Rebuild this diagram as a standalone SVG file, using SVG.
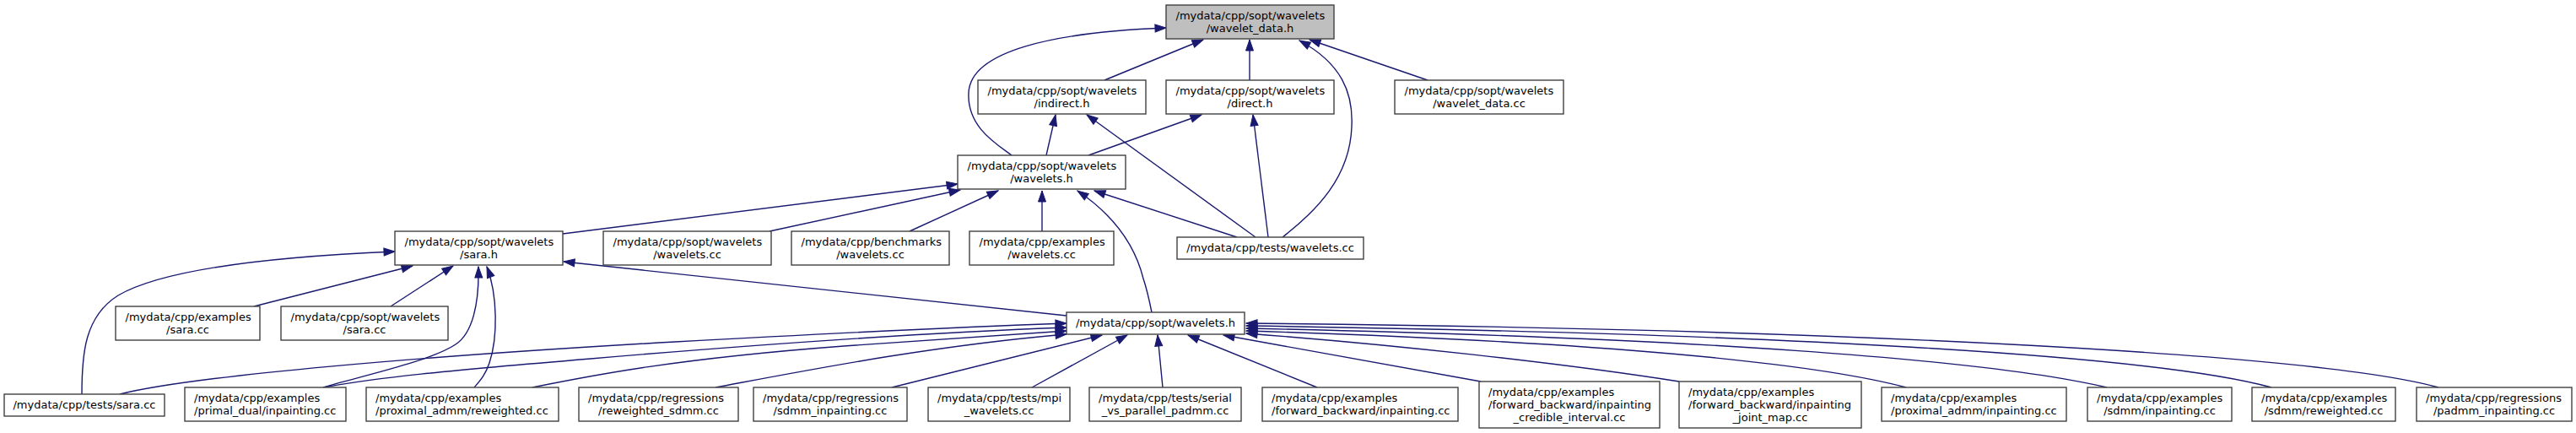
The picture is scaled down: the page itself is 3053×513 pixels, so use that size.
<svg xmlns="http://www.w3.org/2000/svg" width="3053" height="513" viewBox="0 0 3053 513">
<style>
.node rect{fill:#ffffff;stroke:#404040;stroke-width:1.4}
.root rect{fill:#bfbfbf}
text{font-family:"DejaVu Sans","Liberation Sans",sans-serif;font-size:13px;fill:#000}
.m{text-anchor:middle}
.s{text-anchor:start}
#edges path{fill:none;stroke:#191970;stroke-width:1.4;marker-end:url(#ah)}
</style>
<defs>
<marker id="ah" markerUnits="userSpaceOnUse" markerWidth="14" markerHeight="10" viewBox="0 0 14 10" refX="13" refY="5" orient="auto" overflow="visible">
<path d="M0,0.5 L13,5 L0,9.5 z" fill="#191970" stroke="#191970" stroke-width="1"/>
</marker>
</defs>
<rect width="3053" height="513" fill="#ffffff"/>
<g id="edges">
<path d="M1309,95 L1426,47"/>
<path d="M1481,95 L1481,47"/>
<path d="M1692,95 L1552,47"/>
<path d="M1199,184 C1180,170 1146,150 1148,110 C1150,60 1250,38 1382,33"/>
<path d="M1520,281 C1560,250 1600,210 1602,150 C1604,110 1590,75 1540,48"/>
<path d="M1240,184 L1251,136"/>
<path d="M1290,184 L1424,136"/>
<path d="M1488,281 L1288,136"/>
<path d="M1503,281 L1485,136"/>
<path d="M1466,281 L1297,226"/>
<path d="M1365,370 C1362,355 1360,345 1355,330 C1345,290 1320,255 1277,226"/>
<path d="M1235,274 L1235,226"/>
<path d="M1078,274 L1183,226"/>
<path d="M912,274 L1138,225"/>
<path d="M667,277 L1135,218"/>
<path d="M1264,374 L668,310"/>
<path d="M301,363 L489,315"/>
<path d="M463,363 L537,315"/>
<path d="M97,467 C97,420 100,375 140,350 C200,315 350,303 468,298"/>
<path d="M383,459 C430,445 510,428 540,408 C560,395 568,360 567,316"/>
<path d="M562,459 C568,452 575,445 580,430 C590,400 590,350 577,316"/>
<path d="M142,467 C230,445 500,422 800,405 C1000,394 1150,387 1264,383"/>
<path d="M383,459 C450,447 520,440 700,425 C900,408 1100,394 1264,388"/>
<path d="M631,459 C700,445 800,425 1000,410 C1100,403 1200,396 1264,392"/>
<path d="M848,459 C950,440 1100,410 1264,396"/>
<path d="M1057,459 L1306,397"/>
<path d="M1223,459 L1336,397"/>
<path d="M1378,459 L1372,397"/>
<path d="M1561,459 L1408,397"/>
<path d="M1755,452 L1450,397"/>
<path d="M1990,452 C1850,430 1650,408 1477,395"/>
<path d="M2259,459 C2150,430 1900,405 1477,392"/>
<path d="M2497,459 C2350,425 2000,400 1477,389"/>
<path d="M2692,459 C2550,420 2100,395 1477,386"/>
<path d="M2890,459 C2750,420 2200,390 1477,383"/>
</g>
<g id="n0" class="node root"><rect x="1382" y="6" width="199" height="40"/><text class="s" x="1393.5" y="22.5">/mydata/cpp/sopt/wavelets</text><text class="m" x="1481.5" y="37.5">/wavelet_data.h</text></g>
<g id="n1" class="node"><rect x="1159" y="95" width="199" height="40"/><text class="s" x="1170.5" y="111.5">/mydata/cpp/sopt/wavelets</text><text class="m" x="1258.5" y="126.5">/indirect.h</text></g>
<g id="n2" class="node"><rect x="1382" y="95" width="199" height="40"/><text class="s" x="1393.5" y="111.5">/mydata/cpp/sopt/wavelets</text><text class="m" x="1481.5" y="126.5">/direct.h</text></g>
<g id="n3" class="node"><rect x="1653" y="95" width="200" height="40"/><text class="s" x="1664.5" y="111.5">/mydata/cpp/sopt/wavelets</text><text class="m" x="1753" y="126.5">/wavelet_data.cc</text></g>
<g id="n4" class="node"><rect x="1135" y="184" width="199" height="40"/><text class="s" x="1146.5" y="200.5">/mydata/cpp/sopt/wavelets</text><text class="m" x="1234.5" y="215.5">/wavelets.h</text></g>
<g id="n5" class="node"><rect x="468" y="274" width="199" height="40"/><text class="s" x="479.5" y="290.5">/mydata/cpp/sopt/wavelets</text><text class="m" x="567.5" y="305.5">/sara.h</text></g>
<g id="n6" class="node"><rect x="715" y="274" width="199" height="40"/><text class="s" x="726.5" y="290.5">/mydata/cpp/sopt/wavelets</text><text class="m" x="814.5" y="305.5">/wavelets.cc</text></g>
<g id="n7" class="node"><rect x="938" y="274" width="187" height="40"/><text class="s" x="949.5" y="290.5">/mydata/cpp/benchmarks</text><text class="m" x="1031.5" y="305.5">/wavelets.cc</text></g>
<g id="n8" class="node"><rect x="1149" y="274" width="171" height="40"/><text class="s" x="1160.5" y="290.5">/mydata/cpp/examples</text><text class="m" x="1234.5" y="305.5">/wavelets.cc</text></g>
<g id="n9" class="node"><rect x="1395" y="281" width="221" height="26"/><text class="m" x="1505.5" y="298">/mydata/cpp/tests/wavelets.cc</text></g>
<g id="n10" class="node"><rect x="137" y="363" width="171" height="40"/><text class="s" x="148.5" y="379.5">/mydata/cpp/examples</text><text class="m" x="222.5" y="394.5">/sara.cc</text></g>
<g id="n11" class="node"><rect x="333" y="363" width="198" height="40"/><text class="s" x="344.5" y="379.5">/mydata/cpp/sopt/wavelets</text><text class="m" x="432" y="394.5">/sara.cc</text></g>
<g id="n12" class="node"><rect x="1264" y="370" width="211" height="26"/><text class="m" x="1369.5" y="387">/mydata/cpp/sopt/wavelets.h</text></g>
<g id="n13" class="node"><rect x="5" y="467" width="190" height="26"/><text class="m" x="100" y="484">/mydata/cpp/tests/sara.cc</text></g>
<g id="n14" class="node"><rect x="219" y="459" width="191" height="40"/><text class="s" x="230" y="475.5">/mydata/cpp/examples</text><text class="s" x="230" y="490.5">/primal_dual/inpainting.cc</text></g>
<g id="n15" class="node"><rect x="434" y="459" width="228" height="40"/><text class="s" x="445" y="475.5">/mydata/cpp/examples</text><text class="s" x="445" y="490.5">/proximal_admm/reweighted.cc</text></g>
<g id="n16" class="node"><rect x="686" y="459" width="189" height="40"/><text class="s" x="697" y="475.5">/mydata/cpp/regressions</text><text class="m" x="780.5" y="490.5">/reweighted_sdmm.cc</text></g>
<g id="n17" class="node"><rect x="893" y="459" width="182" height="40"/><text class="s" x="904" y="475.5">/mydata/cpp/regressions</text><text class="m" x="984" y="490.5">/sdmm_inpainting.cc</text></g>
<g id="n18" class="node"><rect x="1100" y="459" width="168" height="40"/><text class="s" x="1111" y="475.5">/mydata/cpp/tests/mpi</text><text class="m" x="1184" y="490.5">_wavelets.cc</text></g>
<g id="n19" class="node"><rect x="1291" y="459" width="180" height="40"/><text class="s" x="1302" y="475.5">/mydata/cpp/tests/serial</text><text class="m" x="1381" y="490.5">_vs_parallel_padmm.cc</text></g>
<g id="n20" class="node"><rect x="1496" y="459" width="232" height="40"/><text class="s" x="1507" y="475.5">/mydata/cpp/examples</text><text class="s" x="1507" y="490.5">/forward_backward/inpainting.cc</text></g>
<g id="n21" class="node"><rect x="1753" y="452" width="214" height="55"/><text class="s" x="1764" y="468.5">/mydata/cpp/examples</text><text class="s" x="1764" y="483.5">/forward_backward/inpainting</text><text class="m" x="1860" y="498.5">_credible_interval.cc</text></g>
<g id="n22" class="node"><rect x="1990" y="452" width="216" height="55"/><text class="s" x="2001" y="468.5">/mydata/cpp/examples</text><text class="s" x="2001" y="483.5">/forward_backward/inpainting</text><text class="m" x="2098" y="498.5">_joint_map.cc</text></g>
<g id="n23" class="node"><rect x="2230" y="459" width="219" height="40"/><text class="s" x="2241" y="475.5">/mydata/cpp/examples</text><text class="s" x="2241" y="490.5">/proximal_admm/inpainting.cc</text></g>
<g id="n24" class="node"><rect x="2474" y="459" width="171" height="40"/><text class="s" x="2485" y="475.5">/mydata/cpp/examples</text><text class="m" x="2559.5" y="490.5">/sdmm/inpainting.cc</text></g>
<g id="n25" class="node"><rect x="2669" y="459" width="170" height="40"/><text class="s" x="2680" y="475.5">/mydata/cpp/examples</text><text class="m" x="2754" y="490.5">/sdmm/reweighted.cc</text></g>
<g id="n26" class="node"><rect x="2864" y="459" width="184" height="40"/><text class="s" x="2875" y="475.5">/mydata/cpp/regressions</text><text class="m" x="2956" y="490.5">/padmm_inpainting.cc</text></g>
</svg>
